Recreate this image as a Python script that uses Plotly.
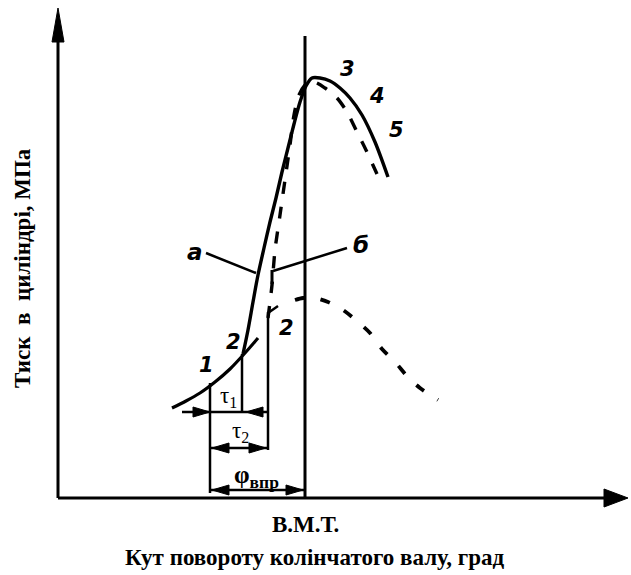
import plotly.graph_objects as go

W, H = 631, 575

# ---- diagram data (diagram units: x = crank angle scale, y = pressure scale, screen-like) ----
axis_origin = (58, 498)
y_axis_top = 8
x_axis_end = 628
tdc_x = 305
tdc_top = 36

# compression curve (1)
comp_x = [172, 186, 200, 215, 230, 245, 258]
comp_y = [408, 401, 393, 382, 369, 353, 338]

# combustion curve "a" (solid)
a_x = [243, 248, 253, 258, 264, 270, 276, 282, 288, 294, 300, 306, 312, 320, 330, 340, 350, 362, 375, 388]
a_y = [354, 330, 302, 275, 248, 222, 198, 172, 148, 124, 102, 86, 78, 78, 81, 88, 98, 115, 142, 177]

# combustion curve "б" (dashed)
b_x = [268, 272, 275, 280, 285, 290, 294, 299, 306, 314, 325, 337, 347, 357, 366, 377]
b_y = [318, 285, 250, 215, 180, 145, 115, 95, 84, 82, 88, 98, 112, 132, 150, 174]

# motoring curve (dashed, without combustion)
m_x = [295, 303, 315, 328, 343, 358, 370, 382, 395, 407, 420, 438]
m_y = [300, 298, 298, 302, 310, 322, 333, 349, 362, 376, 388, 400]

# dimension verticals: (x, y_top, y_bottom)
dim_verticals = [(210, 383, 493), (242, 354, 413), (268, 312, 450)]
# dimension rows: (y, x_start, x_end)
dim_rows = [(412, 182, 268), (448, 210, 268), (490, 210, 305)]
# arrowheads: (tip_x, y, direction)
dim_arrows = [(210, 412, 1), (246, 412, -1), (212, 448, -1), (266, 448, 1), (212, 490, -1), (303, 490, 1)]

# leader lines
lead_a = ([206, 256], [253, 273])
lead_b = ([347, 273], [248, 271])
tick_b = ([272, 272], [270, 284])
tick_2 = ([268, 278], [313, 306])

# labels: (text, x, y)
curve_labels = [("1", 206, 365), ("2", 233, 342), ("2", 286, 328), ("3", 347, 69), ("4", 377, 96), ("5", 396, 130)]
letter_labels = [("a", 195, 252), ("б", 361, 245)]

fig = go.Figure()

def line(xs, ys, width=3, dash=None):
    fig.add_trace(go.Scatter(x=xs, y=ys, mode="lines", line=dict(color="black", width=width, dash=dash, shape="spline", smoothing=0.8), hoverinfo="skip", showlegend=False))

def straight(xs, ys, width=2.5):
    fig.add_trace(go.Scatter(x=xs, y=ys, mode="lines", line=dict(color="black", width=width), hoverinfo="skip", showlegend=False))

def tri(xs, ys):
    fig.add_trace(go.Scatter(x=xs + [xs[0]], y=ys + [ys[0]], mode="lines", fill="toself", fillcolor="black", line=dict(color="black", width=1), hoverinfo="skip", showlegend=False))

# axes
ox, oy = axis_origin
straight([ox, ox], [oy, y_axis_top + 25], width=3)
straight([ox, x_axis_end - 20], [oy, oy], width=3)
tri([ox, ox - 6, ox + 6], [y_axis_top, y_axis_top + 34, y_axis_top + 34])
tri([x_axis_end, x_axis_end - 24, x_axis_end - 24], [oy, oy - 9, oy + 9])

# TDC line
straight([tdc_x, tdc_x], [tdc_top, oy], width=3)

# curves
line(comp_x, comp_y, width=3.2)
line(a_x, a_y, width=3.4)
line(b_x, b_y, width=3.4, dash="12px,13px")
line(m_x, m_y, width=3.8, dash="10px,16px")

# dimensions
for x, y0, y1 in dim_verticals:
    straight([x, x], [y0, y1], width=2.5)
for y, x0, x1 in dim_rows:
    straight([x0, x1], [y, y], width=2.5)
for tx, ty, d in dim_arrows:
    tri([tx, tx - d * 17, tx - d * 17], [ty, ty - 5, ty + 5])

# leaders
straight(*lead_a, width=2.5)
straight(*lead_b, width=2.5)
straight(*tick_b, width=3)
straight(*tick_2, width=2.5)

ann = []
hand = dict(family="DejaVu Sans", color="black", weight="bold", style="italic")
for t, x, y in curve_labels:
    ann.append(dict(x=x, y=y, text=t, showarrow=False, font=dict(hand, size=21)))
for t, x, y in letter_labels:
    ann.append(dict(x=x, y=y, text=t, showarrow=False, font=dict(hand, size=23)))

serif = "Liberation Serif"
ann.append(dict(x=228, y=397, text="τ<sub>1</sub>", showarrow=False, font=dict(family=serif, size=23, color="black")))
ann.append(dict(x=240, y=432, text="τ<sub>2</sub>", showarrow=False, font=dict(family=serif, size=23, color="black")))
ann.append(dict(x=256, y=476, text="φ<sub>впр</sub>", showarrow=False, font=dict(family=serif, size=25, color="black", weight="bold")))
ann.append(dict(x=tdc_x, y=524, text="В.М.Т.", showarrow=False, font=dict(family=serif, size=23, color="black", weight="bold")))
ann.append(dict(x=314, y=557, text="Кут повороту колінчатого валу, град", showarrow=False, font=dict(family=serif, size=23, color="black", weight="bold")))
ann.append(dict(x=22, y=268, text="Тиск  в  циліндрі, МПа", textangle=-90, showarrow=False, font=dict(family=serif, size=23, color="black", weight="bold")))

for a in ann:
    a.setdefault("xref", "x")
    a.setdefault("yref", "y")

fig.update_layout(
    width=W, height=H,
    margin=dict(l=0, r=0, t=0, b=0),
    paper_bgcolor="white", plot_bgcolor="white",
    xaxis=dict(range=[0, W], visible=False, fixedrange=True),
    yaxis=dict(range=[H, 0], visible=False, fixedrange=True),
    annotations=ann,
    showlegend=False,
)

fig.write_html("out.html")
